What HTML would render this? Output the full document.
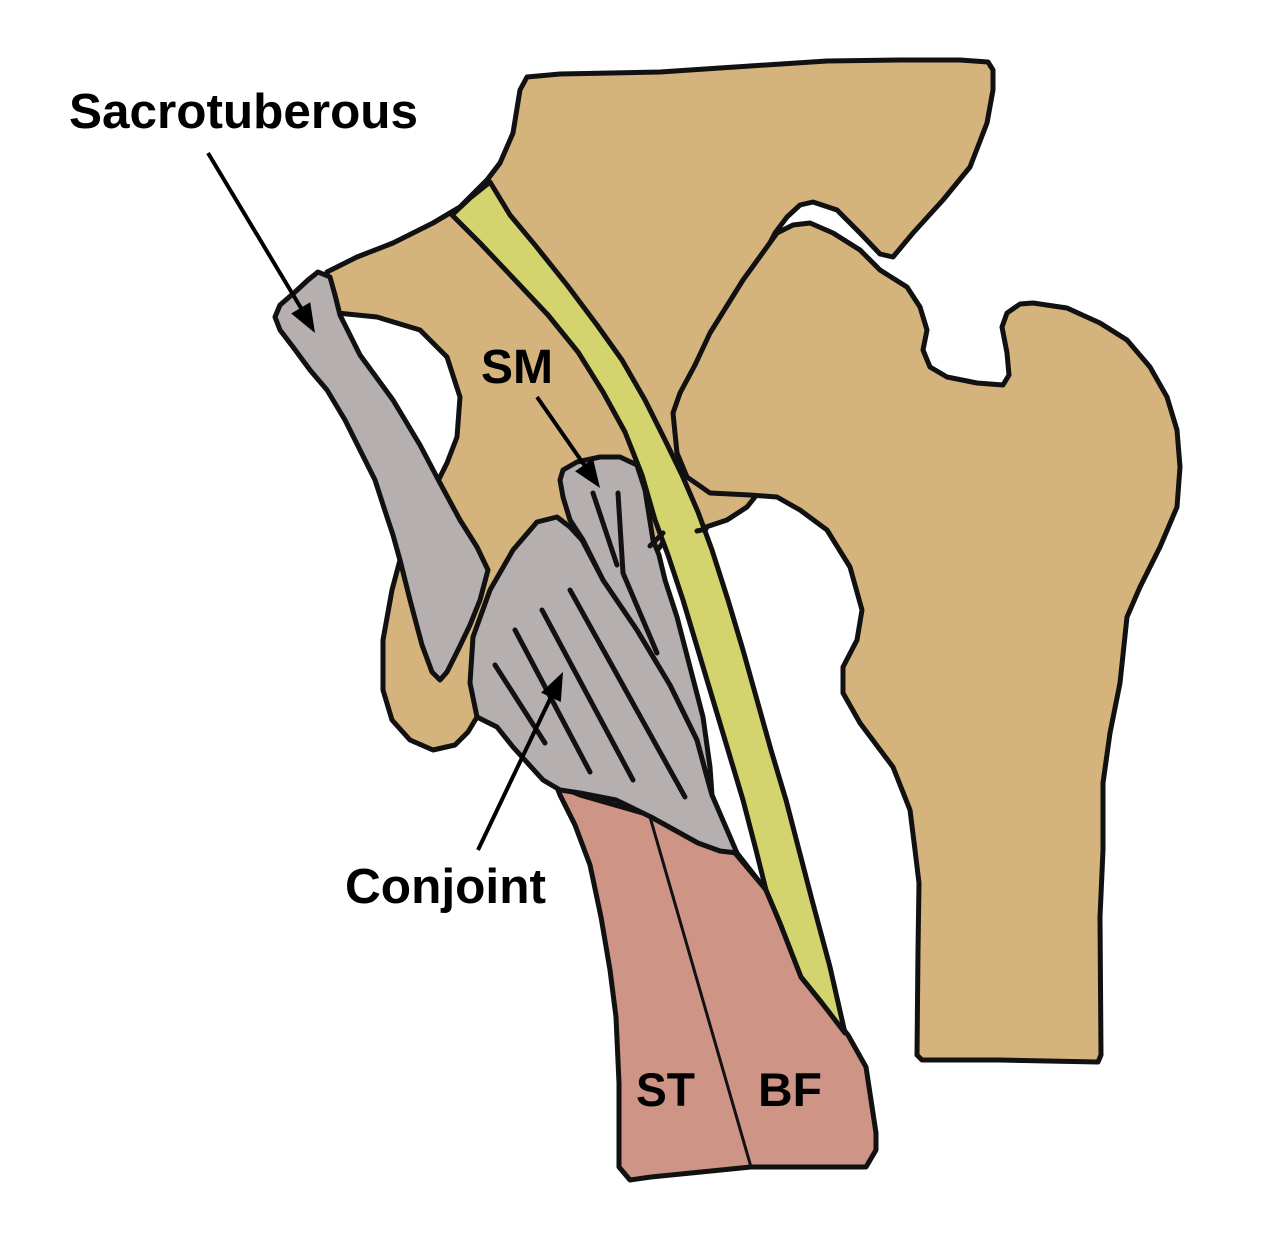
<!DOCTYPE html>
<html><head><meta charset="utf-8"><style>
html,body{margin:0;padding:0;background:#fff;}
svg{display:block;}
</style></head><body>
<svg width="1282" height="1242" viewBox="0 0 1282 1242" xmlns="http://www.w3.org/2000/svg">
<rect width="1282" height="1242" fill="#fff"/>
<g stroke="#111" stroke-width="5" stroke-linejoin="round" stroke-linecap="round">
<!-- pelvis -->
<path fill="#D4B47C" d="M527,77 L560,74 L660,72 L750,66 L827,61 L900,60 L960,60 L988,62 L993,70 L993,90 L987,123 L970,167 L943,200 L913,233 L893,257 L880,254 L860,233 L837,210 L813,202 L800,205 L787,217 L775,233 L730,320 L715,420 L725,480 L755,497 L747,507 L727,520 L697,530 L665,540 L650,560 L620,600 L560,640 L500,700 L477,717 L468,732 L455,745 L433,750 L410,740 L392,720 L383,690 L383,640 L392,590 L400,560 L370,450 L330,300 L327,272 L357,257 L393,243 L433,223 L460,207 L487,180 L500,163 L513,133 L520,90 Z"/>
<!-- hole -->
<path fill="#fff" d="M337,313 L377,317 L420,330 L447,357 L460,397 L457,437 L447,463 L437,483 L420,460 L385,400 L345,330 Z"/>
<!-- sacrotuberous band -->
<path fill="#B5AFAF" d="M318,272 L330,277 L335,295 L340,315 L360,355 L393,400 L420,445 L440,483 L460,520 L477,547 L488,570 L480,600 L470,625 L458,650 L447,672 L440,680 L432,672 L422,645 L410,600 L400,560 L393,535 L387,517 L375,480 L360,450 L345,420 L327,390 L310,370 L293,347 L280,330 L275,317 L280,305 L295,292 L308,280 Z"/>
<!-- femur -->
<path fill="#D4B47C" d="M777,233 L793,225 L810,223 L833,233 L860,250 L880,270 L907,287 L920,307 L927,330 L923,350 L930,367 L947,377 L977,383 L1003,385 L1009,375 L1007,353 L1002,327 L1007,313 L1020,304 L1033,303 L1067,308 L1100,323 L1127,340 L1150,367 L1167,397 L1177,430 L1180,467 L1177,507 L1160,547 L1140,587 L1127,617 L1120,683 L1110,733 L1103,783 L1103,850 L1100,917 L1101,1055 L1098,1062 L1000,1060 L922,1060 L917,1055 L918,950 L919,883 L915,850 L910,810 L893,767 L860,723 L843,693 L843,667 L857,640 L862,610 L850,567 L827,530 L800,510 L777,497 L750,495 L710,493 L687,477 L677,453 L673,413 L680,393 L695,365 L710,333 L743,280 Z"/>
<!-- pink muscle -->
<path fill="#CE9486" d="M556,785 L580,795 L650,815 L700,840 L735,853 L762,885 L766,890 L780,923 L801,977 L822,1003 L848,1035 L866,1067 L876,1133 L876,1150 L866,1167 L751,1167 L651,1177 L630,1180 L619,1167 L619,1083 L616,1017 L610,970 L601,917 L590,865 L575,825 L560,795 Z"/>
<!-- conjoint -->
<path fill="#B5AFAF" d="M477,717 L470,683 L473,637 L490,590 L513,550 L537,522 L557,517 L570,527 L582,540 L603,580 L637,630 L670,685 L697,740 L707,777 L712,795 L737,853 L720,851 L698,843 L651,817 L616,800 L580,793 L560,790 L543,780 L513,747 L497,727 Z"/>
<!-- SM -->
<path fill="#B5AFAF" d="M560,480 L563,470 L577,462 L600,457 L620,457 L637,465 L645,490 L653,540 L659,555 L665,580 L677,617 L690,667 L703,717 L710,767 L712,795 L707,777 L697,740 L670,685 L637,630 L603,580 L583,540 L570,520 L563,497 Z"/>
<!-- yellow nerve -->
<path fill="#D4D46E" d="M452,215 L480,243 L515,280 L548,315 L578,352 L603,392 L625,432 L642,475 L655,520 L668,555 L683,600 L698,650 L713,700 L728,750 L743,800 L756,850 L766,890 L780,923 L801,977 L822,1003 L845,1033 L830,967 L812,900 L799,850 L786,800 L771,750 L757,700 L743,650 L728,600 L712,550 L698,512 L682,475 L665,440 L645,400 L622,360 L597,325 L567,285 L535,245 L510,215 L490,182 L470,198 Z"/>
<!-- redraw pelvis top edge over nerve start -->
<path fill="none" d="M433,223 L460,207 L487,180 L500,163"/>
<!-- internal lines -->
<path fill="none" d="M495,665 L545,743"/>
<path fill="none" d="M515,630 L590,772"/>
<path fill="none" d="M542,610 L633,780"/>
<path fill="none" d="M570,590 L685,797"/>
<path fill="none" d="M593,493 L617,565"/>
<path fill="none" d="M618,493 L623,573 L657,653"/>
<path fill="none" d="M650,546 L663,533"/>
<path fill="none" d="M697,531 L706,529"/>
<path fill="none" d="M737,853 L762,885"/>
</g>
<path d="M650,817 L751,1167" stroke="#111" stroke-width="3" fill="none"/>
<!-- arrows -->
<g stroke="#000" stroke-width="4" fill="none">
<line x1="208" y1="153" x2="301" y2="308"/>
<line x1="537" y1="397" x2="585" y2="466"/>
<line x1="478" y1="850" x2="551" y2="697"/>
</g>
<g fill="#000">
<polygon points="315,333 310.2,302.3 291.2,313.5"/>
<polygon points="600,488 593.1,458.7 575.1,471.3"/>
<polygon points="563,672 560.8,702 541,692.6"/>
</g>
<g font-family="'Liberation Sans', Arial, sans-serif" font-weight="bold" fill="#000">
<text x="69" y="128" font-size="49" textLength="349" lengthAdjust="spacingAndGlyphs">Sacrotuberous</text>
<text x="481" y="383" font-size="48" textLength="72" lengthAdjust="spacingAndGlyphs">SM</text>
<text x="345" y="903" font-size="49" textLength="201" lengthAdjust="spacingAndGlyphs">Conjoint</text>
<text x="636" y="1106" font-size="47" textLength="59" lengthAdjust="spacingAndGlyphs">ST</text>
<text x="758" y="1106" font-size="47" textLength="64" lengthAdjust="spacingAndGlyphs">BF</text>
</g>
</svg>
</body></html>
